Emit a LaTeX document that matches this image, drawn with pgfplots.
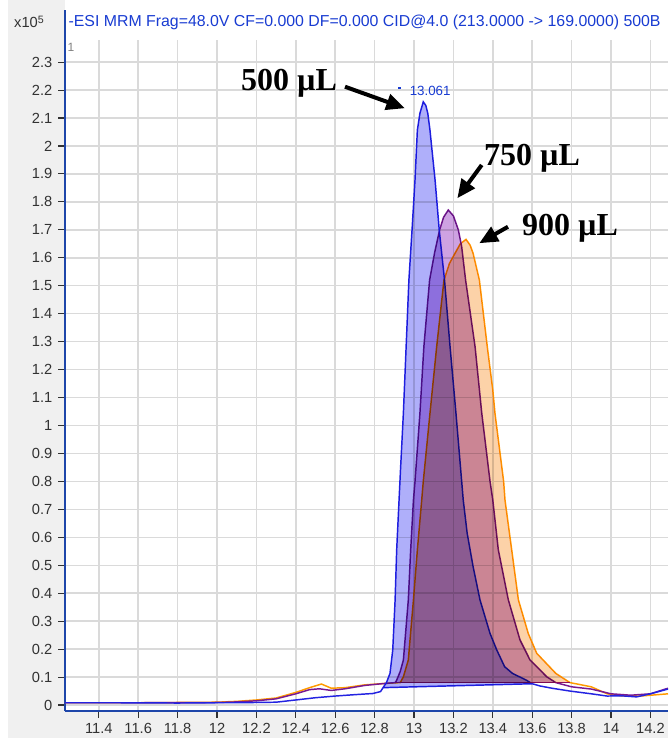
\documentclass[border=0pt]{standalone}
\usepackage{fontspec}
\setmainfont{Liberation Sans}
\newfontfamily\timesb{Liberation Serif}
\usepackage{pgfplots}
\pgfplotsset{compat=1.18}
\usetikzlibrary{arrows.meta}
\definecolor{bgray}{RGB}{240,240,240}
\definecolor{gridc}{RGB}{218,218,218}
\definecolor{axisb}{RGB}{30,70,170}
\definecolor{tickc}{RGB}{50,50,50}
\definecolor{blueL}{RGB}{35,35,225}
\definecolor{purpL}{RGB}{120,25,145}
\definecolor{oranL}{RGB}{255,155,0}
\definecolor{blueF}{RGB}{175,175,250}
\definecolor{purpF}{RGB}{206,162,226}
\definecolor{oranF}{RGB}{252,210,168}
\definecolor{hdrblue}{RGB}{25,60,210}
\begin{document}
\begin{tikzpicture}
\path[use as bounding box, fill=bgray] (-48.75pt,-20.25pt) rectangle (452.25pt,533.25pt);
\fill[white] (0,0) rectangle (452.25pt,533.25pt);
\fill[white] (-48.75pt,-20.25pt) rectangle (-42.75pt,533.25pt);
\begin{axis}[at={(0,0)}, anchor=south west, scale only axis,
  width=452.25pt, height=503.25pt,
  xmin=11.2284, xmax=14.2893, ymin=-0.0215, ymax=2.3792,
  axis x line*=bottom, axis y line*=left,
  axis line style={draw=axisb, line width=1.8pt},
  xtick={11.4,11.6,11.8,12,12.2,12.4,12.6,12.8,13,13.2,13.4,13.6,13.8,14,14.2},
  xticklabels={11.4,11.6,11.8,12,12.2,12.4,12.6,12.8,13,13.2,13.4,13.6,13.8,14,14.2},
  ytick={0,0.1,0.2,0.3,0.4,0.5,0.6,0.7,0.8,0.9,1,1.1,1.2,1.3,1.4,1.5,1.6,1.7,1.8,1.9,2,2.1,2.2,2.3},
  yticklabels={0,0.1,0.2,0.3,0.4,0.5,0.6,0.7,0.8,0.9,1,1.1,1.2,1.3,1.4,1.5,1.6,1.7,1.8,1.9,2,2.1,2.2,2.3},
  scaled ticks=false,
  tick align=outside, major tick length=5pt,
  tick style={draw=tickc, line width=0.8pt},
  xtick pos=bottom, ytick pos=left,
  grid=major, grid style={draw=gridc, line width=1.1pt},
  tick label style={font=\fontsize{11}{12}\selectfont, text=tickc},
  yticklabel style={xshift=-1pt},
  xticklabel style={yshift=-1pt},
]
% ---- traces (lines) ----
\addplot[draw=oranL, line width=1.1pt] coordinates {
(11.2284,0.008)(11.6,0.008)(12.0,0.010)(12.1,0.013)(12.2,0.018)(12.3,0.025)(12.4,0.045)(12.47,0.062)(12.53,0.075)(12.58,0.060)(12.65,0.062)(12.75,0.072)(12.85,0.077)(12.93,0.080)(12.946,0.101)(12.971,0.161)(12.997,0.376)(13.017,0.555)(13.039,0.733)(13.047,0.80)(13.081,1.044)(13.115,1.282)(13.152,1.52)(13.180,1.58)(13.208,1.616)(13.235,1.65)(13.264,1.666)(13.285,1.645)(13.300,1.616)(13.332,1.52)(13.372,1.282)(13.400,1.127)(13.411,1.044)(13.455,0.80)(13.462,0.733)(13.496,0.555)(13.530,0.376)(13.580,0.256)(13.623,0.185)(13.720,0.113)(13.792,0.080)(13.85,0.072)(13.90,0.065)(13.98,0.040)(14.05,0.033)(14.15,0.032)(14.22,0.036)(14.2893,0.040)};
\addplot[draw=purpL, line width=1.1pt] coordinates {
(11.2284,0.008)(11.6,0.008)(12.0,0.009)(12.1,0.011)(12.2,0.015)(12.3,0.022)(12.4,0.040)(12.47,0.055)(12.52,0.058)(12.58,0.052)(12.65,0.058)(12.75,0.070)(12.85,0.077)(12.905,0.080)(12.912,0.089)(12.930,0.12)(12.946,0.161)(12.971,0.376)(12.983,0.555)(12.997,0.733)(13.005,0.80)(13.030,1.044)(13.050,1.282)(13.079,1.52)(13.105,1.62)(13.130,1.70)(13.150,1.745)(13.174,1.771)(13.20,1.75)(13.225,1.70)(13.242,1.64)(13.262,1.52)(13.310,1.282)(13.344,1.044)(13.386,0.80)(13.400,0.733)(13.428,0.555)(13.479,0.376)(13.538,0.233)(13.589,0.161)(13.674,0.101)(13.720,0.080)(13.80,0.065)(13.90,0.057)(14.00,0.040)(14.10,0.035)(14.20,0.040)(14.2893,0.060)};
\addplot[draw=blueL, line width=1.1pt] coordinates {
(11.2284,0.008)(11.5,0.008)(11.8,0.007)(12.0,0.008)(12.1,0.008)(12.2,0.009)(12.3,0.010)(12.4,0.018)(12.5,0.026)(12.6,0.032)(12.7,0.037)(12.79,0.041)(12.83,0.048)(12.843,0.062)(12.86,0.080)(12.878,0.113)(12.892,0.197)(12.904,0.376)(12.912,0.555)(12.924,0.733)(12.932,0.85)(12.946,1.044)(12.960,1.282)(12.974,1.52)(12.99,1.70)(13.005,1.878)(13.017,2.057)(13.030,2.117)(13.047,2.158)(13.060,2.145)(13.070,2.117)(13.081,2.057)(13.107,1.878)(13.128,1.70)(13.155,1.52)(13.183,1.282)(13.213,1.044)(13.250,0.733)(13.270,0.614)(13.300,0.495)(13.335,0.376)(13.386,0.256)(13.420,0.197)(13.460,0.137)(13.500,0.113)(13.570,0.089)(13.600,0.076)(13.64,0.068)(13.70,0.060)(13.79,0.050)(13.90,0.040)(13.98,0.032)(14.05,0.033)(14.13,0.029)(14.20,0.040)(14.2893,0.057)};
% ---- integration baselines ----
\addplot[draw=blueL, line width=1.1pt] coordinates {(12.843,0.062)(13.600,0.076)};
\addplot[draw=purpL!80!red, line width=1.1pt] coordinates {(12.905,0.080)(13.792,0.080)};
% ---- peak fills (multiply) ----
\addplot[draw=none, fill=oranF, blend mode=multiply] coordinates {
(12.93,0.080)(12.946,0.101)(12.971,0.161)(12.997,0.376)(13.017,0.555)(13.039,0.733)(13.047,0.80)(13.081,1.044)(13.115,1.282)(13.152,1.52)(13.180,1.58)(13.208,1.616)(13.235,1.65)(13.264,1.666)(13.285,1.645)(13.300,1.616)(13.332,1.52)(13.372,1.282)(13.400,1.127)(13.411,1.044)(13.455,0.80)(13.462,0.733)(13.496,0.555)(13.530,0.376)(13.580,0.256)(13.623,0.185)(13.720,0.113)(13.792,0.080)} -- cycle;
\addplot[draw=none, fill=purpF, blend mode=multiply] coordinates {
(12.905,0.080)(12.912,0.089)(12.930,0.12)(12.946,0.161)(12.971,0.376)(12.983,0.555)(12.997,0.733)(13.005,0.80)(13.030,1.044)(13.050,1.282)(13.079,1.52)(13.105,1.62)(13.130,1.70)(13.150,1.745)(13.174,1.771)(13.20,1.75)(13.225,1.70)(13.242,1.64)(13.262,1.52)(13.310,1.282)(13.344,1.044)(13.386,0.80)(13.400,0.733)(13.428,0.555)(13.479,0.376)(13.538,0.233)(13.589,0.161)(13.674,0.101)(13.720,0.080)} -- cycle;
\addplot[draw=none, fill=blueF, blend mode=multiply] coordinates {
(12.843,0.062)(12.86,0.080)(12.878,0.113)(12.892,0.197)(12.904,0.376)(12.912,0.555)(12.924,0.733)(12.932,0.85)(12.946,1.044)(12.960,1.282)(12.974,1.52)(12.99,1.70)(13.005,1.878)(13.017,2.057)(13.030,2.117)(13.047,2.158)(13.060,2.145)(13.070,2.117)(13.081,2.057)(13.107,1.878)(13.128,1.70)(13.155,1.52)(13.183,1.282)(13.213,1.044)(13.250,0.733)(13.270,0.614)(13.300,0.495)(13.335,0.376)(13.386,0.256)(13.420,0.197)(13.460,0.137)(13.500,0.113)(13.570,0.089)(13.600,0.076)} -- cycle;
% ---- annotations ----
\node[font=\fontsize{10}{12}\selectfont, text=hdrblue] at (axis cs:13.082,2.197) {13.061};
\node[fill=hdrblue, inner sep=0pt, minimum width=2.5pt, minimum height=1.6pt] at (axis cs:12.925,2.207) {};
\node[font=\timesb\bfseries\fontsize{24}{28}\selectfont] at (axis cs:12.3655,2.2254) {500 µL};
\node[font=\timesb\bfseries\fontsize{24}{28}\selectfont] at (axis cs:13.599,1.957) {750 µL};
\node[font=\timesb\bfseries\fontsize{24}{28}\selectfont] at (axis cs:13.792,1.7066) {900 µL};
\draw[line width=3pt, -{Triangle[length=14pt,width=12pt]}] (axis cs:12.6497,2.212) -- (axis cs:12.954,2.135);
\draw[line width=3pt, -{Triangle[length=14pt,width=12pt]}] (axis cs:13.3437,1.932) -- (axis cs:13.2198,1.813);
\draw[line width=3pt, -{Triangle[length=14pt,width=12pt]}] (axis cs:13.477,1.711) -- (axis cs:13.331,1.652);
\end{axis}
% header
\draw[axisb, line width=1.8pt] (0,490pt) -- (0,526pt);
\node[anchor=center, font=\fontsize{11}{12}\selectfont, text=tickc] at (-27pt,516.75pt) {x10\raisebox{3.5pt}{\fontsize{8}{9}\selectfont 5}};
\node[anchor=west, inner sep=0pt, font=\fontsize{11.9}{14}\selectfont, text=hdrblue] at (2.5pt,516.75pt) {-ESI MRM Frag=48.0V CF=0.000 DF=0.000 CID@4.0 (213.0000 -> 169.0000) 500B};
\node[anchor=center, font=\fontsize{9}{10}\selectfont, text=gray] at (4.5pt,498pt) {1};
\end{tikzpicture}
\end{document}
